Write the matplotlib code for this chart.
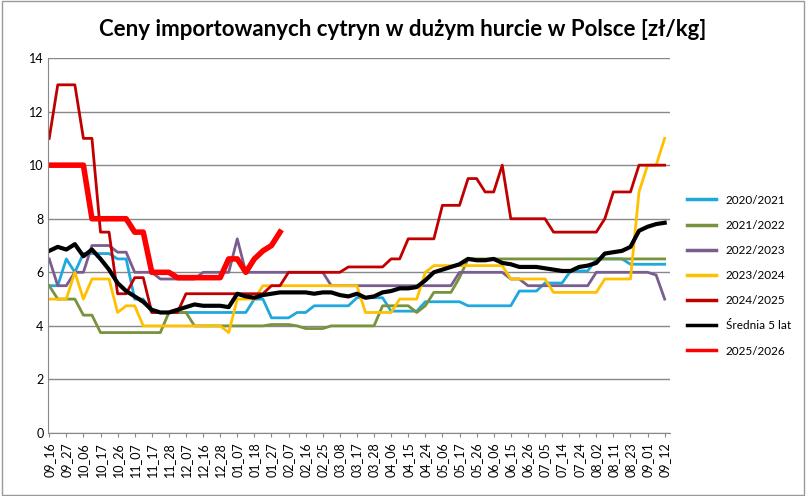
import matplotlib.pyplot as plt
from matplotlib.patches import Rectangle

plt.rcParams['font.family'] = ['Lato', 'DejaVu Sans']

labels = ['09_16', '09_27', '10_06', '10_17', '10_26', '11_07', '11_17', '11_28', '12_07',
          '12_16', '12_28', '01_07', '01_18', '01_27', '02_07', '02_16', '02_25', '03_08',
          '03_17', '03_28', '04_06', '04_15', '04_24', '05_06', '05_17', '05_26', '06_06',
          '06_15', '06_26', '07_05', '07_14', '07_24', '08_02', '08_11', '08_23', '09_01', '09_12']

s2020 = [5.5, 5.5, 6.5, 6, 6.7, 6.7, 6.7, 6.7, 6.5, 6.5, 5, 5] + [4.5] * 12 + [5, 5, 4.3, 4.3, 4.3, 4.5, 4.5] \
    + [4.75] * 5 + [5.05] * 4 + [4.55] * 4 + [4.9] * 5 + [4.75] * 6 + [5.3] * 3 + [5.6] * 3 \
    + [6.05] * 3 + [6.5] * 4 + [6.3] * 5
s2021 = [5.5, 5, 5, 5, 4.4, 4.4] + [3.75] * 8 + [4.5] * 3 + [4] * 9 + [4.05] * 3 + [4] + [3.9] * 3 \
    + [4] * 6 + [4.75] * 4 + [4.5, 4.75, 5.25, 5.25, 5.25, 5.8] + [6.5] * 24
s2022 = [6.5, 5.5, 5.5, 6, 6, 7, 7, 7, 6.75, 6.75, 6, 6, 6] + [5.75] * 5 + [6] * 4 + [7.25] \
    + [6] * 10 + [5.5] * 15 + [6] * 6 + [5.75] * 2 + [5.5] * 8 + [6] * 7 + [5.9, 5]
s2023 = [5, 5, 5, 6, 5, 5.75, 5.75, 5.75, 4.5, 4.75, 4.75] + [4] * 10 + [3.75, 5, 5, 5] + [5.5] * 12 \
    + [4.5] * 4 + [5] * 3 + [6] + [6.25] * 9 + [5.75] * 5 + [5.25] * 6 + [5.75] * 4 + [9, 10, 10, 11]
s2024 = [11, 13, 13, 13, 11, 11, 7.5, 7.5, 5.2, 5.2, 5.8, 5.8, 4.5, 4.5, 4.5, 4.5] + [5.2] * 10 \
    + [5.5, 5.5] + [6] * 7 + [6.2] * 5 + [6.5, 6.5] + [7.25] * 4 + [8.5] * 3 + [9.5, 9.5, 9, 9, 10] \
    + [8] * 5 + [7.5] * 6 + [8] + [9] * 3 + [10] * 4
s2025 = [10, 10, 10, 10, 10, 8, 8, 8, 8, 8, 7.5, 7.5, 6, 6, 6, 5.8, 5.8, 5.8, 5.8, 5.8, 5.8,
         6.5, 6.5, 6, 6.5, 6.8, 7, 7.5]
avg5 = [6.8, 6.95, 6.85, 7.05, 6.6, 6.85, 6.5, 6.1, 5.6, 5.3, 5.1, 4.9, 4.6, 4.5, 4.5, 4.6, 4.7,
        4.8, 4.75, 4.75, 4.75, 4.7, 5.2, 5.1, 5.05, 5.15, 5.2, 5.25, 5.25, 5.25, 5.25, 5.2, 5.25,
        5.25, 5.15, 5.1, 5.2, 5.05, 5.1, 5.25, 5.3, 5.4, 5.4, 5.45, 5.7, 6.0, 6.1, 6.2, 6.3, 6.5,
        6.45, 6.45, 6.5, 6.35, 6.3, 6.2, 6.2, 6.2, 6.15, 6.1, 6.05, 6.05, 6.2, 6.25, 6.35, 6.7,
        6.75, 6.8, 6.95, 7.55, 7.7, 7.8, 7.85]

series = [
    ('2020/2021', s2020, '#1FA8DC', 2),
    ('2021/2022', s2021, '#77933C', 2),
    ('2022/2023', s2022, '#7A5C8E', 2),
    ('2023/2024', s2023, '#FFC000', 2),
    ('2024/2025', s2024, '#C00000', 2),
    ('Średnia 5 lat', avg5, '#000000', 3),
    ('2025/2026', s2025, '#FF0000', 4),
]

fig = plt.figure(figsize=(8.06, 4.96), dpi=100)
ax = fig.add_axes([0.06, 0.127, 0.771, 0.756])

for name, vals, col, lw in series:
    ax.plot(range(len(vals)), vals, color=col, lw=lw, label=name, solid_joinstyle='round')

ax.set_ylim(0, 14)
ax.set_yticks(range(0, 15, 2))
ax.set_xlim(-0.1, 72.6)
ax.set_xticks(range(0, 73, 2))
ax.set_xticklabels(labels, rotation=90, fontsize=9)
ax.tick_params(axis='y', labelsize=9, length=0)
ax.tick_params(axis='x', length=3, color='#888888')
ax.grid(axis='y', color='#888888', lw=1)
ax.set_axisbelow(True)
for side in ['top', 'right']:
    ax.spines[side].set_visible(False)
for side in ['left', 'bottom']:
    ax.spines[side].set_color('#888888')

fig.text(0.5, 0.94, 'Ceny importowanych cytryn w dużym hurcie w Polsce [zł/kg]',
         fontsize=16, fontweight='bold', ha='center', va='center')
leg = ax.legend(loc='center left', bbox_to_anchor=(1.01, 0.42), frameon=False, fontsize=8.5,
                handlelength=2.5, labelspacing=1.2)
for line in leg.get_lines():
    line.set_linewidth(2.5)

fig.patches.append(Rectangle((0.002, 0.002), 0.995, 0.995, transform=fig.transFigure,
                             fill=False, edgecolor='#999999', lw=1))
fig.savefig('out.png', dpi=100)
